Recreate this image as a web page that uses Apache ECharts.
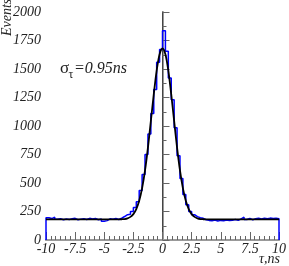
<!DOCTYPE html>
<html>
<head>
<meta charset="utf-8">
<script src="https://cdn.jsdelivr.net/npm/echarts@6/dist/echarts.min.js"></script>
<style>
html,body{margin:0;padding:0;background:#fff;}
#c{width:289px;height:266px;}
</style>
</head>
<body>
<div id="c"></div>
<script>
// Histogram: 80 bins of 0.25 ns from -10 to 10
const binStart = -10;
const binWidth = 0.25;
const histValues = [
  195,188,200,182,186,178,184,180,186,190,
  178,183,186,180,190,184,188,178,184,165,
  170,186,182,188,180,192,206,222,226,250,
  285,335,435,575,750,930,1110,1320,1560,1670,
  1836,1655,1420,1230,985,740,540,400,310,250,
  222,205,196,190,178,172,168,175,166,172,
  168,176,170,174,180,172,186,200,180,190,
  178,186,192,184,190,186,192,188,190,186
];
// Gaussian fit curve points
const fitX = [-10,-4,-3.75,-3.5,-3.25,-3,-2.75,-2.5,-2.25,-2,-1.75,-1.5,-1.25,-1,-0.75,-0.5,-0.25,0,
  0.25,0.5,0.75,1,1.25,1.5,1.75,2,2.25,2.5,2.75,3,3.25,3.5,3.75,4,10];
const fitY = [181,181,181,182,184,190,203,227,271,344,455,611,811,1042,1278,1486,1629,1680,
  1629,1486,1278,1042,811,611,455,344,271,227,203,190,184,182,181,181,181];
const xTicks = ['-10','-7.5','-5','-2.5','0','2.5','5','7.5','10'];
const yTicks = ['0','250','500','750','1000','1250','1500','1750','2000'];

const histPts = [[binStart, 0]];
histValues.forEach((v, i) => {
  const lo = binStart + i * binWidth;
  histPts.push([lo, v]);
  histPts.push([lo + binWidth, v]);
});
histPts.push([binStart + histValues.length * binWidth, 0]);

const fitPts = fitX.map((x, i) => [x, fitY[i]]);

const lblFont = {fontFamily: 'Liberation Serif', fontStyle: 'italic', fontSize: 14, color: '#222'};

const chart = echarts.init(document.getElementById('c'), null, {renderer: 'canvas'});
chart.setOption({
  animation: false,
  grid: {left: 46, right: 8, top: 12, bottom: 26},
  xAxis: [{
    type: 'value', min: -10, max: 10, interval: 2.5,
    axisLine: {lineStyle: {color: '#8a8a8a', width: 1.5}},
    axisTick: {inside: true, length: 8, lineStyle: {color: '#666'}},
    minorTick: {show: true, splitNumber: 6, length: 4, lineStyle: {color: '#666'}},
    splitLine: {show: false},
    axisLabel: Object.assign({margin: 2, formatter: (v) => {
      const idx = Math.round((v + 10) / 2.5);
      return xTicks[idx] !== undefined ? xTicks[idx] : '';
    }}, lblFont)
  }, {
    type: 'value', min: -10, max: 10, position: 'top',
    axisLine: {show: true, lineStyle: {color: '#999', width: 2}},
    axisTick: {show: false}, axisLabel: {show: false}, splitLine: {show: false}
  }],
  yAxis: [{
    type: 'value', min: 0, max: 2000, interval: 250,
    axisLine: {show: true, lineStyle: {color: '#999', width: 2}},
    axisTick: {show: true, inside: true, length: 7, lineStyle: {color: '#666'}},
    minorTick: {show: true, splitNumber: 2, length: 4, lineStyle: {color: '#666'}},
    splitLine: {show: false},
    axisLabel: Object.assign({margin: 5, formatter: (v) => {
      const idx = Math.round(v / 250);
      return yTicks[idx] !== undefined ? yTicks[idx] : '';
    }}, lblFont)
  }, {
    type: 'value', min: 0, max: 2000, position: 'right',
    axisLine: {show: true, lineStyle: {color: '#444', width: 1}},
    axisTick: {show: false}, axisLabel: {show: false}, splitLine: {show: false}
  }],
  series: [{
    type: 'line', data: histPts, showSymbol: false, symbol: 'none',
    lineStyle: {color: '#0000ff', width: 1.5}, z: 2
  }, {
    type: 'line', data: fitPts, showSymbol: false, symbol: 'none', smooth: 0.3,
    lineStyle: {color: '#000', width: 1.8}, z: 3
  }],
  graphic: [{
    type: 'text',
    style: {text: 'Events', x: 0, y: 0, font: 'italic 14px "Liberation Serif"', fill: '#222'},
    rotation: Math.PI / 2, x: 0, y: 36
  }, {
    type: 'text', x: 280, y: 252,
    style: {text: 'τ,ns', font: 'italic 14px "Liberation Serif"', fill: '#222', textAlign: 'right', textVerticalAlign: 'top'}
  }, {
    type: 'text', x: 60, y: 68.5,
    style: {text: 'σ', font: '17px "Liberation Serif"', fill: '#222', textAlign: 'left', textVerticalAlign: 'middle'}
  }, {
    type: 'text', x: 68.5, y: 74.5,
    style: {text: 'τ', font: '12px "Liberation Serif"', fill: '#222', textAlign: 'left', textVerticalAlign: 'middle'}
  }, {
    type: 'text', x: 74, y: 68.5,
    style: {text: '=0.95ns', font: 'italic 16px "Liberation Serif"', fill: '#222', textAlign: 'left', textVerticalAlign: 'middle'}
  }]
});
</script>
</body>
</html>
